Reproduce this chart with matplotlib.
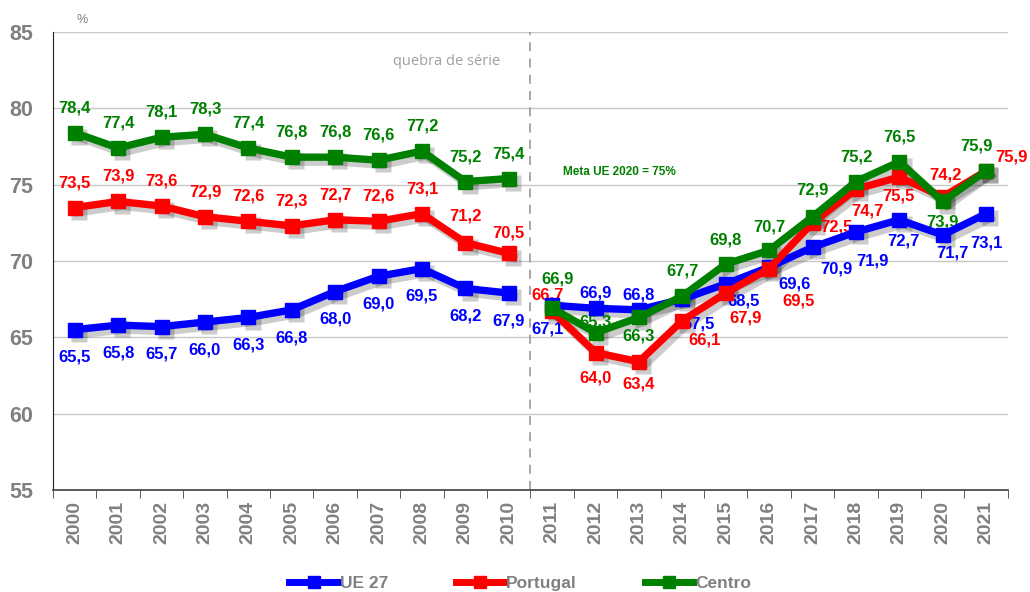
import matplotlib
matplotlib.use("Agg")
import matplotlib.pyplot as plt
import matplotlib.transforms as mtransforms
import numpy as np

years = [str(y) for y in range(2000, 2022)]

ue27 = [65.5, 65.8, 65.7, 66.0, 66.3, 66.8, 68.0, 69.0, 69.5, 68.2, 67.9,
        67.1, 66.9, 66.8, 67.5, 68.5, 69.6, 70.9, 71.9, 72.7, 71.7, 73.1]
portugal = [73.5, 73.9, 73.6, 72.9, 72.6, 72.3, 72.7, 72.6, 73.1, 71.2, 70.5,
            66.7, 64.0, 63.4, 66.1, 67.9, 69.5, 72.5, 74.7, 75.5, 74.2, 75.9]
centro = [78.4, 77.4, 78.1, 78.3, 77.4, 76.8, 76.8, 76.6, 77.2, 75.2, 75.4,
          66.9, 65.3, 66.3, 67.7, 69.8, 70.7, 72.9, 75.2, 76.5, 73.9, 75.9]

series_names = ["UE 27", "Portugal", "Centro"]
series_colors = ["#0000ff", "#ff0000", "#008000"]

# label offsets (points) for each value, 2000-2010 then 2011-2021
ue_off = [(0, -20)] * 11 + [(-3, -17), (0, 11), (0, 11), (12, -18), (13, -12),
                            (18, -12), (17, -16), (12, -21), (3, -15), (7, -13), (0, -21)]
pt_off = [(0, 18)] * 9 + [(0, 19), (0, 15)] + [(-3, 12), (0, -18), (0, -16), (16, -14),
                                              (14, -18), (21, -23), (17, -3), (8, -16),
                                              (-1, -14), (2, 16), (18, 10)]
ce_off = [(0, 18)] * 11 + [(4, 21), (0, 8), (0, -13), (0, 18), (0, 17), (0, 17),
                           (0, 19), (0, 18), (0, 18), (0, -15), (-7, 18)]

x = np.arange(len(years))
fig = plt.figure(figsize=(10.30, 5.92), dpi=100)
ax = fig.add_axes([0.0515, 0.1723, 0.927, 0.7737])

shadow_tr = ax.transData + mtransforms.ScaledTranslation(3 / 72, -3 / 72, fig.dpi_scale_trans)

handles = []
for k, (vals, offs, name, col) in enumerate(zip([ue27, portugal, centro],
                                                [ue_off, pt_off, ce_off],
                                                series_names, series_colors)):
    v = np.array(vals)
    for seg in (slice(0, 11), slice(11, 22)):
        ax.plot(x[seg], v[seg], color="#000000", alpha=0.2, lw=6.5, marker="s",
                ms=11.5, mec="none", transform=shadow_tr, zorder=2 + k * 0.1,
                solid_joinstyle="miter")
        ln, = ax.plot(x[seg], v[seg], color=col, lw=5.3, marker="s", ms=10.5,
                      solid_joinstyle="miter", zorder=3 + k * 0.1,
                      label=name if seg.start == 0 else None)
        if seg.start == 0:
            handles.append(ln)
    for xi, yi, (dx, dy) in zip(x, v, offs):
        ax.annotate(f"{yi:.1f}".replace(".", ","), (xi, yi), xytext=(dx, dy),
                    textcoords="offset points", ha="center", va="center",
                    color=col, fontsize=12, fontweight="bold", zorder=2.9,
                    family="Liberation Sans")

ax.set_xlim(-0.5, 21.5)
ax.set_ylim(55, 85)
ax.set_yticks(range(55, 90, 5))
ax.grid(axis="y", color="#c8c8c8", lw=1)
ax.set_axisbelow(True)

ax.set_xticks(x)
ax.set_xticklabels(years, rotation=90, fontsize=14, fontweight="bold",
                   color="#808080", family="Liberation Sans")
ax.set_xticks(np.arange(-0.5, 22, 1), minor=True)
ax.tick_params(axis="x", which="major", length=0, pad=8)
ax.tick_params(axis="x", which="minor", length=6, color="#404040", direction="out")
ax.tick_params(axis="y", length=0, pad=14.5, labelsize=15.5, labelcolor="#808080")
for lbl in ax.get_yticklabels():
    lbl.set_fontweight("bold")
    lbl.set_family("Liberation Sans")

for s in ("top", "right"):
    ax.spines[s].set_visible(False)
ax.spines["left"].set_color("#202020")
ax.spines["bottom"].set_color("#404040")
ax.spines["bottom"].set_linewidth(1.2)

ax.axvline(10.5, color="#a0a0a0", lw=1.3, ls=(0, (5, 4)), zorder=1)

ax.text(0.16, 85.8, "%", fontsize=9, color="#808080", ha="center", va="center",
        family="Liberation Sans", clip_on=False)
ax.text(8.57, 83.05, "quebra de série", fontsize=10.5, color="#a0a0a0", ha="center",
        va="center", family="Open Sans")
ax.text(12.55, 75.8, "Meta UE 2020 = 75%", fontsize=8.5, color="#008000",
        fontweight="bold", ha="center", va="center", family="Liberation Sans")

leg = fig.legend(handles=handles, loc="center", bbox_to_anchor=(0.505, 0.014),
                 ncol=3, frameon=False, handlelength=2.8, columnspacing=3.9,
                 handletextpad=0.1, prop={"family": "Liberation Sans",
                                          "weight": "bold", "size": 12.5})
for t in leg.get_texts():
    t.set_color("#808080")
for h in leg.legend_handles:
    h.set_markersize(9)
    h.set_linewidth(5)

fig.savefig("out.png", dpi=100)
